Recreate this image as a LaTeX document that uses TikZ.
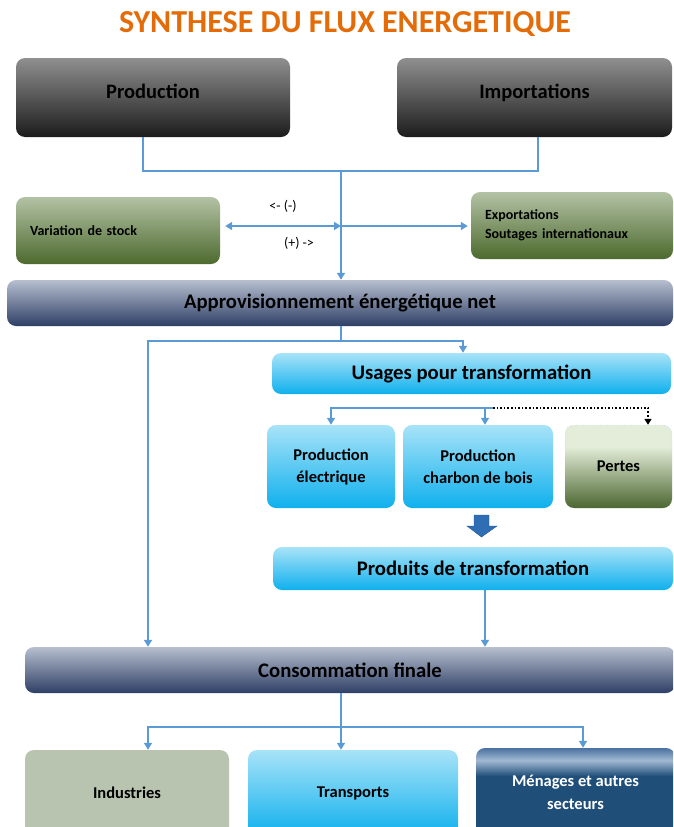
\documentclass[tikz,border=0pt]{standalone}
\usepackage{fontspec}
\setmainfont{Carlito}
\usetikzlibrary{arrows.meta}

\definecolor{titleorange}{HTML}{E36C09}
\definecolor{flowblue}{HTML}{5B9BD5}
\definecolor{darktop}{HTML}{8F8F8F}
\definecolor{darkbot}{HTML}{1C1C1C}
\definecolor{stocktop}{HTML}{B3C2A5}
\definecolor{stockbot}{HTML}{4D6A2E}
\definecolor{navytop}{HTML}{B7BFCF}
\definecolor{navybot}{HTML}{2E3F66}
\definecolor{skytop}{HTML}{A8E3F8}
\definecolor{skybot}{HTML}{0FB0ED}
\definecolor{pertlight}{HTML}{E3EDD9}
\definecolor{pertdark}{HTML}{4C6630}
\definecolor{indgrey}{HTML}{B8C4B0}
\definecolor{mendark}{HTML}{1F4E79}
\definecolor{menlight}{HTML}{A2B9D2}
\definecolor{mentop}{HTML}{4A72A0}
\definecolor{blockblue}{HTML}{2F6EB5}

\pgfdeclareverticalshading{pertesshade}{100bp}{color(0bp)=(pertdark); color(25bp)=(pertdark); color(62bp)=(pertlight); color(100bp)=(pertlight)}
\pgfdeclareverticalshading{menshade}{100bp}{color(0bp)=(mendark); color(59bp)=(mendark); color(68bp)=(menlight); color(75bp)=(mentop); color(100bp)=(mentop)}

\begin{document}
\begin{tikzpicture}[x=1pt, y=-1pt, >={Triangle[width=8pt,length=7pt]},
  base/.style = {rounded corners=9pt, inner sep=0pt, align=center},
  darkbox/.style = {base, top color=darktop, bottom color=darkbot, text height=14pt, text depth=13pt, font=\fontsize{20.5}{24}\selectfont\bfseries},
  stockbox/.style = {base, top color=stocktop, bottom color=stockbot, align=left, inner xsep=14pt, font=\fontsize{14}{19}\selectfont\bfseries},
  navybox/.style = {base, top color=navytop, bottom color=navybot, font=\fontsize{20.7}{24}\selectfont\bfseries},
  skybox/.style = {base, top color=skytop, bottom color=skybot, font=\fontsize{20.7}{24}\selectfont\bfseries},
  smallsky/.style = {skybox, font=\fontsize{16.5}{22}\selectfont\bfseries},
  flow/.style = {draw=flowblue, line width=1.6pt},
  loss/.style = {draw=black, line width=1.6pt, dotted},
  lbl/.style = {font=\fontsize{14}{16}\selectfont}]
\useasboundingbox (0,0) rectangle (673,827);
\clip (0,0) rectangle (673,827);

\node[font=\fontsize{32}{38}\selectfont\bfseries, text=titleorange] (titre) at (345,24) {SYNTHESE DU FLUX ENERGETIQUE};

% sources
\node[darkbox, minimum width=274pt, minimum height=79pt] (prod) at (153,97.5) {Production};
\node[darkbox, minimum width=275pt, minimum height=79pt] (imp) at (534.5,97.5) {Importations};
\node[stockbox, text width=176pt, minimum height=67pt] (stock) at (118,230.5) {Variation de stock};
\node[stockbox, text width=174pt, minimum height=67pt] (expo) at (572,225.5) {Exportations\\Soutages internationaux};
\node[navybox, minimum width=666pt, minimum height=46pt] (appro) at (340,303) {Approvisionnement énergétique net};

% transformation
\node[skybox, minimum width=399pt, minimum height=41pt] (usage) at (471.5,373.5) {Usages pour transformation};
\node[smallsky, minimum width=128pt, minimum height=83pt] (elec) at (331,466.5) {Production\\électrique};
\node[smallsky, minimum width=150pt, minimum height=83pt] (charb) at (478,466.5) {Production\\charbon de bois};
\node[base, shading=pertesshade, draw=flowblue!70, dotted, thin, minimum width=107pt, minimum height=83pt, font=\fontsize{16.5}{22}\selectfont\bfseries] (pertes) at (618.5,466.5) {Pertes};
\node[skybox, minimum width=400pt, minimum height=43pt] (produit) at (473,568.5) {Produits de transformation};

% consommation
\node[navybox, minimum width=650pt, minimum height=46pt] (conso) at (350,670) {Consommation finale};
\node[base, fill=indgrey, minimum width=204pt, minimum height=86pt, font=\fontsize{16.5}{22}\selectfont\bfseries] (ind) at (127,793) {Industries};
\node[smallsky, minimum width=210pt, minimum height=86pt] (trans) at (353,793) {Transports};
\node[base, shading=menshade, text=white, minimum width=199pt, minimum height=88pt, font=\fontsize{16.5}{23}\selectfont\bfseries] (men) at (575.5,792) {Ménages et autres\\secteurs};

\coordinate (hub) at (341,171);
\coordinate (split) at (341,226);
\coordinate (fork) at (341,341);
\coordinate (left) at (148,341);
\coordinate (tsplit) at (493,408);
\coordinate (bsplit) at (341,727);

\draw[flow] ([xshift=-10pt]prod.south) -- ++(0,34) -| ([xshift=3.5pt]imp.south);
\draw[flow,->] (hub) -- (hub |- appro.north);
\draw[flow,<->] ([xshift=5pt]split -| stock.east) -- (split);
\draw[flow,->] (split) -- ([xshift=-3pt]split -| expo.west);
\node[lbl] (moins) at (283,206) {<- (-)};
\node[lbl] (plus) at (299,243) {(+) ->};

\draw[flow] (fork |- appro.south) -- (fork);
\draw[flow,->] (fork) -| ([xshift=-8.5pt]usage.north);
\draw[flow,->] (fork) -- (left) -- (left |- conso.north);

\draw[flow,->] (tsplit) -| (elec.north);
\draw[flow,->] (tsplit -| charb.north) ++(7pt,0) -- ([xshift=7pt]charb.north);
\draw[loss,-{Triangle[width=7pt,length=6pt]}] (tsplit) -| ([xshift=29.5pt]pertes.north);

\draw[fill=blockblue, draw=blockblue!80!black, thin] (474,515) -- (489,515) -- (489,526) -- (497,526) -- (481.5,537) -- (467,526) -- (474,526) -- cycle;
\draw[flow,->] ([xshift=12pt]produit.south) -- ([xshift=12pt]produit.south |- conso.north);

\draw[flow] (bsplit |- conso.south) -- (bsplit);
\draw[flow,->] (bsplit) -| ([xshift=21pt]ind.north);
\draw[flow,->] (bsplit) -- ([xshift=-12pt]trans.north);
\draw[flow,->] (bsplit) -| ([xshift=7.5pt]men.north);
\end{tikzpicture}
\end{document}
